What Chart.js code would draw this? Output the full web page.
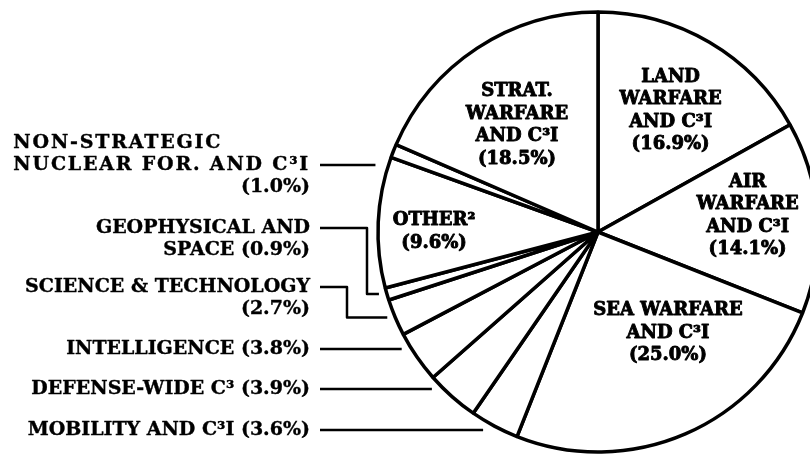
<!DOCTYPE html>
<html>
<head>
<meta charset="UTF-8">
<script src="https://cdn.jsdelivr.net/npm/chart.js"></script>
<style>
  body { margin: 0; background: #fff; }
  #grafico { display: block; }
</style>
</head>
<body>
<canvas id="grafico" width="810" height="454"></canvas>
<script>
  // fatias na ordem do relogio, comecando no topo
  var categorias = [
    "Land Warfare and C³I", "Air Warfare and C³I", "Sea Warfare and C³I",
    "Mobility and C³I", "Defense-Wide C³", "Intelligence",
    "Science & Technology", "Geophysical and Space", "Other²",
    "Non-Strategic Nuclear For. and C³I", "Strat. Warfare and C³I"
  ];
  var percentuais = [16.9, 14.1, 25.0, 3.6, 3.9, 3.8, 2.7, 0.9, 9.6, 1.0, 18.5];

  // texto das etiquetas, %p vira o percentual
  var textos = [
    ["LAND", "WARFARE", "AND C³I", "%p"],
    ["AIR", "WARFARE", "AND C³I", "%p"],
    ["SEA WARFARE", "AND C³I", "%p"],
    ["MOBILITY AND C³I %p"],
    ["DEFENSE-WIDE C³ %p"],
    ["INTELLIGENCE %p"],
    ["SCIENCE & TECHNOLOGY", "%p"],
    ["GEOPHYSICAL AND", "SPACE %p"],
    ["OTHER²", "%p"],
    ["NON-STRATEGIC", "NUCLEAR FOR. AND C³I", "%p"],
    ["STRAT.", "WARFARE", "AND C³I", "%p"]
  ];

  // etiquetas dentro da pizza: deslocamento do centro em fracao do raio
  var posInternas = {
    0: [0.33, -0.55],
    1: [0.68, -0.073],
    2: [0.318, 0.459],
    8: [-0.745, 0],
    10: [-0.368, -0.486]
  };

  // etiquetas a esquerda, com linha guia
  var posExternas = {
    9: { y: 143, guia: 1, cotovelo: null, folga: 13, primeiraEsq: true, espaco: "1.8px" },
    7: { y: 228, guia: 0, cotovelo: 367, folga: 8 },
    6: { y: 287, guia: 0, cotovelo: 347, folga: 8 },
    5: { y: 349, guia: 0, cotovelo: null, folga: 10 },
    4: { y: 389, guia: 0, cotovelo: null, folga: 12 },
    3: { y: 430, guia: 0, cotovelo: null, folga: 19 }
  };

  function linhasDe(i) {
    var p = "(" + percentuais[i].toFixed(1) + "%)";
    return textos[i].map(function (t) { return t.replace("%p", p); });
  }

  function escrever(ctx, t, x, y, grossura) {
    ctx.lineWidth = grossura;
    ctx.strokeText(t, x, y);
    ctx.fillText(t, x, y);
  }

  var etiquetas = {
    id: "etiquetas",
    afterDatasetsDraw: function (chart) {
      var ctx = chart.ctx;
      var arcos = chart.getDatasetMeta(0).data;
      var cx = arcos[0].x, cy = arcos[0].y, r = arcos[0].outerRadius;

      ctx.save();
      ctx.fillStyle = "#000";
      ctx.strokeStyle = "#000";
      ctx.textBaseline = "middle";
      ctx.lineJoin = "round";

      // dentro
      ctx.font = "bold 18px 'DejaVu Serif'";
      ctx.textAlign = "center";
      Object.keys(posInternas).forEach(function (k) {
        var linhas = linhasDe(k);
        var px = cx + posInternas[k][0] * r;
        var py = cy + posInternas[k][1] * r;
        var alt = 22.5;
        var y0 = py - (linhas.length - 1) * alt / 2;
        linhas.forEach(function (l, j) {
          escrever(ctx, l, px, y0 + j * alt, 0.9);
        });
      });

      // fora, alinhado a direita
      ctx.font = "bold 19px 'DejaVu Serif'";
      var xTexto = 310, xGuia = 320, alt = 22;
      Object.keys(posExternas).forEach(function (k) {
        var cfg = posExternas[k];
        var linhas = linhasDe(k);
        linhas.forEach(function (l, j) {
          var ultima = j === linhas.length - 1 && linhas.length > 2;
          ctx.letterSpacing = (cfg.espaco && !ultima) ? cfg.espaco : "0px";
          if (j === 0 && cfg.primeiraEsq) {
            ctx.textAlign = "left";
            var xEsq = xTexto - ctx.measureText(linhas[1]).width;
            escrever(ctx, l, xEsq, cfg.y, 0.4);
          } else {
            ctx.textAlign = "right";
            escrever(ctx, l, xTexto, cfg.y + j * alt, 0.4);
          }
        });
        ctx.letterSpacing = "0px";
        var yg = cfg.y + cfg.guia * alt;
        ctx.lineWidth = 2.5;
        ctx.beginPath();
        ctx.moveTo(xGuia, yg);
        var yFim = yg;
        if (cfg.cotovelo !== null) {
          var a = (arcos[k].startAngle + arcos[k].endAngle) / 2;
          yFim = cy + r * Math.sin(a);
          ctx.lineTo(cfg.cotovelo, yg);
          ctx.lineTo(cfg.cotovelo, yFim);
        }
        var xBorda = cx - Math.sqrt(r * r - (yFim - cy) * (yFim - cy));
        ctx.lineTo(xBorda - cfg.folga, yFim);
        ctx.stroke();
      });
      ctx.restore();
    }
  };

  new Chart(document.getElementById("grafico"), {
    type: "pie",
    data: {
      labels: categorias,
      datasets: [{
        data: percentuais,
        backgroundColor: "#fff",
        borderColor: "#000",
        borderWidth: 3.5,
        radius: 220,
        clip: false
      }]
    },
    options: {
      responsive: false,
      animation: false,
      layout: { padding: { left: 386, right: 0, top: 10, bottom: 0 } },
      plugins: {
        legend: { display: false },
        tooltip: { enabled: false }
      }
    },
    plugins: [etiquetas]
  });
</script>
</body>
</html>
